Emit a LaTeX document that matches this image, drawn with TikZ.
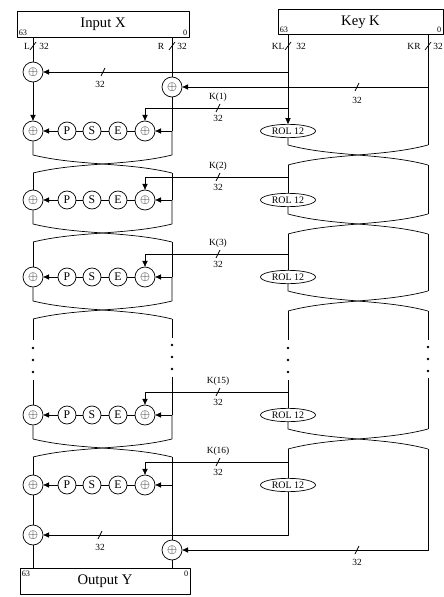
\documentclass[tikz,border=0pt]{standalone}
\usepackage{fontspec}
\setmainfont{Liberation Serif}
\usepackage{tikz}
\usetikzlibrary{arrows.meta,positioning,shapes.geometric,calc}

\begin{document}
\begin{tikzpicture}[x=0.03cm, y=-0.03cm, line width=0.6pt, line join=round,
  xorc/.style={draw, circle, minimum size=0.6cm, inner sep=0pt, font=\fontsize{11}{11}\selectfont},
  fun/.style={draw, circle, minimum size=0.54cm, inner sep=0pt, font=\fontsize{10}{10}\selectfont},
  rol/.style={draw, ellipse, minimum width=1.65cm, minimum height=0.4cm, inner sep=0pt, font=\fontsize{8.5}{9}\selectfont},
  iobox/.style={draw, rectangle, minimum height=0.76cm, inner sep=0pt, font=\fontsize{12.5}{13}\selectfont},
  lab/.style={inner sep=1pt, font=\fontsize{8}{9}\selectfont},
  bitno/.style={inner sep=1.5pt, font=\fontsize{7}{8}\selectfont},
  arr/.style={-{Triangle[length=5pt,width=4.5pt]}}]
  \def\xL{33}\def\xR{172}\def\xKL{288}\def\xKR{428}
  \useasboundingbox (0,0) rectangle (443,597);
  % registers
  \node[iobox, minimum width=5.16cm] (inX) at (103,24.5) {Input X};
  \node[bitno, anchor=south west] (inXa) at (inX.south west) {63};
  \node[bitno, anchor=south east] (inXb) at (inX.south east) {0};
  \node[iobox, minimum width=4.95cm] (keyK) at (360.5,22) {Key K};
  \node[bitno, anchor=south west] (keyKa) at (keyK.south west) {63};
  \node[bitno, anchor=south east] (keyKb) at (keyK.south east) {0};
  \node[iobox, minimum width=5.1cm] (outY) at (105,581.5) {Output Y};
  \node[bitno, anchor=north west] (outYa) at (outY.north west) {63};
  \node[bitno, anchor=north east] (outYb) at (outY.north east) {0};
  % bus widths under the registers
  \node[lab] (nL) at (27,46) {L}; \draw (30,50) -- (36,42); \node[lab] (wL) at (44,46) {32};
  \node[lab] (nR) at (161,46) {R}; \draw (169,50) -- (175,42); \node[lab] (wR) at (182,46) {32};
  \node[lab] (nKL) at (278,46) {KL}; \draw (285,50) -- (291,42); \node[lab] (wKL) at (301,46) {32};
  \node[lab] (nKR) at (414,46) {KR}; \draw (425,50) -- (431,42); \node[lab] (wKR) at (438,46) {32};
  % pre-whitening
  \node[xorc] (xa) at (\xL,72) {$\oplus$};
  \node[xorc] (xb) at (\xR,87) {$\oplus$};
  \coordinate (kLa) at (\xKL,72);
  \coordinate (kRa) at (\xKR,87);
  \draw (inX.south -| xa) -- (xa);
  \draw (inX.south -| xb) -- (xb);
  \draw[arr] (kLa) -- (xa);
  \draw[arr] (kRa) -- (xb);
  \draw (101,76) -- (105,68); \node[lab] (wa) at (100,84) {32};
  \draw (355,91) -- (359,83); \node[lab] (wb) at (357,100) {32};
  % rounds
  \foreach \r/\y/\k in {1/131/1,2/200/2,3/277/3,4/415/15,5/485/16}{
    \node[xorc] (xl\r) at (\xL,\y) {$\oplus$};
    \node[fun] (p\r) at (67,\y) {P};
    \node[fun] (s\r) at (92,\y) {S};
    \node[fun] (e\r) at (118,\y) {E};
    \node[xorc] (xr\r) at (145,\y) {$\oplus$};
    \node[rol] (rol\r) at (\xKL,\y) {ROL 12};
    \coordinate (rt\r) at (\xR,\y);
    \coordinate (kt\r) at (\xKL,\y-23);
    \draw[arr] (rt\r) -- (xr\r);
    \draw (xr\r) -- (e\r) (e\r) -- (s\r) (s\r) -- (p\r);
    \draw[arr] (p\r) -- (xl\r);
    \draw[arr] (kt\r) -- (xr\r |- kt\r) -- (xr\r);
    \node[lab] (kn\r) at (218,\y-34) {K(\k)};
    \draw (216,\y-19) -- (220,\y-27);
    \node[lab] (kw\r) at (218,\y-13) {32};
  }
  \draw[arr] (xa) -- (xl1);
  \draw (xb) -- (rt1);
  \draw[arr] (keyK.south -| rol1) -- (rol1);
  \draw (keyK.south -| kRa) -- (kRa);
  % swaps
  \foreach \r/\y in {1/131,2/200,3/277,4/415}{
    \coordinate (dLt\r) at (\xL,\y+24); \coordinate (dRt\r) at (\xR,\y+24);
    \coordinate (dLb\r) at (\xL,\y+42); \coordinate (dRb\r) at (\xR,\y+42);
    \coordinate (kLt\r) at (\xKL,\y+14); \coordinate (kRt\r) at (\xKR,\y+14);
    \coordinate (kLb\r) at (\xKL,\y+34); \coordinate (kRb\r) at (\xKR,\y+34);
    \draw (xl\r) -- (dLt\r) .. controls ($(dLt\r)+(45,11)$) and ($(dRb\r)+(-45,-11)$) .. (dRb\r);
    \draw (rt\r) -- (dRt\r) .. controls ($(dRt\r)+(-45,11)$) and ($(dLb\r)+(45,-11)$) .. (dLb\r);
    \draw (rol\r) -- (kLt\r) .. controls ($(kLt\r)+(45,12)$) and ($(kRb\r)+(-45,-12)$) .. (kRb\r);
    \draw (kRt\r) .. controls ($(kRt\r)+(-45,12)$) and ($(kLb\r)+(45,-12)$) .. (kLb\r);
  }
  \draw (kRa) -- (kRt1);
  \foreach \r/\n in {1/2,2/3,4/5}{
    \draw (dLb\r) -- (xl\n);
    \draw (dRb\r) -- (rt\n);
    \draw (kLb\r) -- (rol\n);
  }
  \foreach \r/\n in {1/2,2/3}
    \draw (kRb\r) -- (kRt\n);
  % rounds 4 .. 14 left out
  \draw (dLb3) -- (\xL,340) (\xL,380) -- (xl4);
  \draw (dRb3) -- (\xR,338) (\xR,377) -- (rt4);
  \draw (kLb3) -- (\xKL,340) (\xKL,380) -- (rol4);
  \draw (kRb3) -- (\xKR,340) (\xKR,378) -- (kRt4);
  \foreach \x/\d in {\xL/0,\xR/-3,\xKL/0,\xKR/-1}
    \foreach \yy in {348,360,372}
      \fill (\x,\yy+\d) circle (1.1pt);
  % post-whitening
  \node[xorc] (xc) at (\xL,535) {$\oplus$};
  \node[xorc] (xd) at (\xR,550) {$\oplus$};
  \coordinate (kLf) at (\xKL,535);
  \coordinate (kRf) at (\xKR,550);
  \draw (xl5) -- (xc);
  \draw (rt5) -- (xd);
  \draw[arr] (rol5) -- (kLf) -- (xc);
  \draw[arr] (kRb4) -- (kRf) -- (xd);
  \draw (98,539) -- (102,531); \node[lab] (wc) at (100,547) {32};
  \draw (355,554) -- (359,546); \node[lab] (wd) at (357,562) {32};
  \draw (xc) -- (outY.north -| xc);
  \draw (xd) -- (outY.north -| xd);
\end{tikzpicture}
\end{document}
